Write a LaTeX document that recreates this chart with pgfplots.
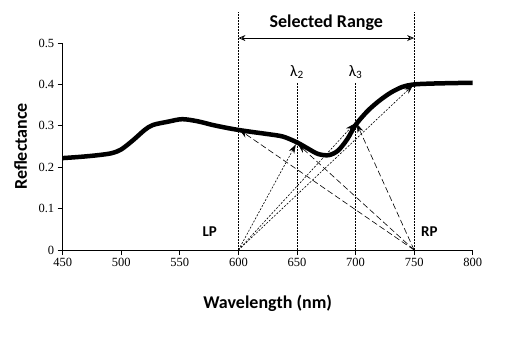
\documentclass[border=0pt]{standalone}
\usepackage{fontspec}
\setmainfont{Carlito}
\newfontfamily\tickfont{Liberation Serif}
\usepackage{pgfplots}
\pgfplotsset{compat=1.18}
\usetikzlibrary{arrows.meta}
\begin{document}
\begin{tikzpicture}
\path[use as bounding box] (-62.7pt,-87pt) rectangle (447.3pt,250pt);
\begin{axis}[
  at={(0,0)}, anchor=south west,
  scale only axis, width=410pt, height=207pt,
  xmin=450, xmax=800, ymin=0, ymax=0.5,
  axis lines*=left,
  axis line style={-, line width=0.9pt},
  xtick={450,500,...,800}, ytick={0,0.1,...,0.5},
  yticklabels={0,0.1,0.2,0.3,0.4,0.5},
  tick align=outside, major tick length=5pt,
  tick style={line width=0.9pt, black},
  xticklabel style={font=\tickfont\fontsize{12.5}{14}\selectfont},
  yticklabel style={font=\tickfont\fontsize{12.5}{14}\selectfont},
  /pgf/number format/assume math mode=true,
  xlabel={Wavelength (nm)},
  xlabel style={font=\bfseries\fontsize{18}{20}\selectfont, at={(axis description cs:0.5,0)}, anchor=center, yshift=-53pt},
  clip=false,
]
% reflectance curve
\addplot[black, line width=4.5pt, smooth, tension=0.5] coordinates {
(450,0.222) (465,0.225) (480,0.229) (492,0.234) (500,0.243) (510,0.265) (520,0.290) (527,0.302)
(540,0.310) (552,0.316) (565,0.311) (578,0.302) (590,0.295) (600,0.290) (612,0.285)
(625,0.280) (638,0.274) (650,0.260) (660,0.244) (668,0.232) (677,0.229) (685,0.240)
(693,0.268) (700,0.302) (710,0.335) (720,0.360) (730,0.380) (740,0.394) (750,0.400)
(765,0.402) (780,0.403) (800,0.404)};
% vertical guide lines
\addplot[black, line width=0.6pt, dash pattern=on 2pt off 1pt] coordinates {(600,0) (600,0.575)};
\addplot[black, line width=0.6pt, dash pattern=on 2pt off 1pt] coordinates {(750,0) (750,0.575)};
\addplot[black, line width=0.6pt, dash pattern=on 2pt off 1pt] coordinates {(650,0) (650,0.405)};
\addplot[black, line width=0.6pt, dash pattern=on 2pt off 1pt] coordinates {(700,0) (700,0.405)};
% selected range arrow
\addplot[black, line width=0.8pt, {Stealth[length=7pt,width=6pt,open]}-{Stealth[length=7pt,width=6pt,open]}] coordinates {(600,0.512) (750,0.512)};
% arrows from LP
\addplot[black, line width=0.6pt, dash pattern=on 2pt off 1.5pt, -{Stealth[length=9pt,width=6pt]}] coordinates {(600,0) (649,0.255)};
\addplot[black, line width=0.6pt, dash pattern=on 2pt off 1.5pt, -{Stealth[length=9pt,width=6pt]}] coordinates {(600,0) (699,0.305)};
\addplot[black, line width=0.6pt, dash pattern=on 2pt off 1.5pt, -{Stealth[length=9pt,width=6pt]}] coordinates {(600,0) (749,0.398)};
% arrows from RP
\addplot[black, line width=0.6pt, dash pattern=on 6pt off 3pt, -{Stealth[length=9pt,width=6pt]}] coordinates {(750,0) (601,0.29)};
\addplot[black, line width=0.6pt, dash pattern=on 6pt off 3pt, -{Stealth[length=9pt,width=6pt]}] coordinates {(750,0) (651,0.255)};
\addplot[black, line width=0.6pt, dash pattern=on 6pt off 3pt, -{Stealth[length=9pt,width=6pt]}] coordinates {(750,0) (701,0.305)};
% labels
\node[font=\bfseries\fontsize{18}{20}\selectfont, rotate=90] at ([xshift=-42pt]axis description cs:0,0.5) {Reflectance};
\node[font=\bfseries\fontsize{18}{20}\selectfont] at (axis cs:675,0.55) {Selected Range};
\node[font=\fontsize{16}{18}\selectfont] at (axis cs:650,0.43) {λ\textsubscript{2}};
\node[font=\fontsize{16}{18}\selectfont] at (axis cs:700,0.43) {λ\textsubscript{3}};
\node[font=\bfseries\fontsize{15}{17}\selectfont] at (axis cs:575.5,0.045) {LP};
\node[font=\bfseries\fontsize{15}{17}\selectfont] at (axis cs:763,0.045) {RP};
\end{axis}
\end{tikzpicture}
\end{document}
